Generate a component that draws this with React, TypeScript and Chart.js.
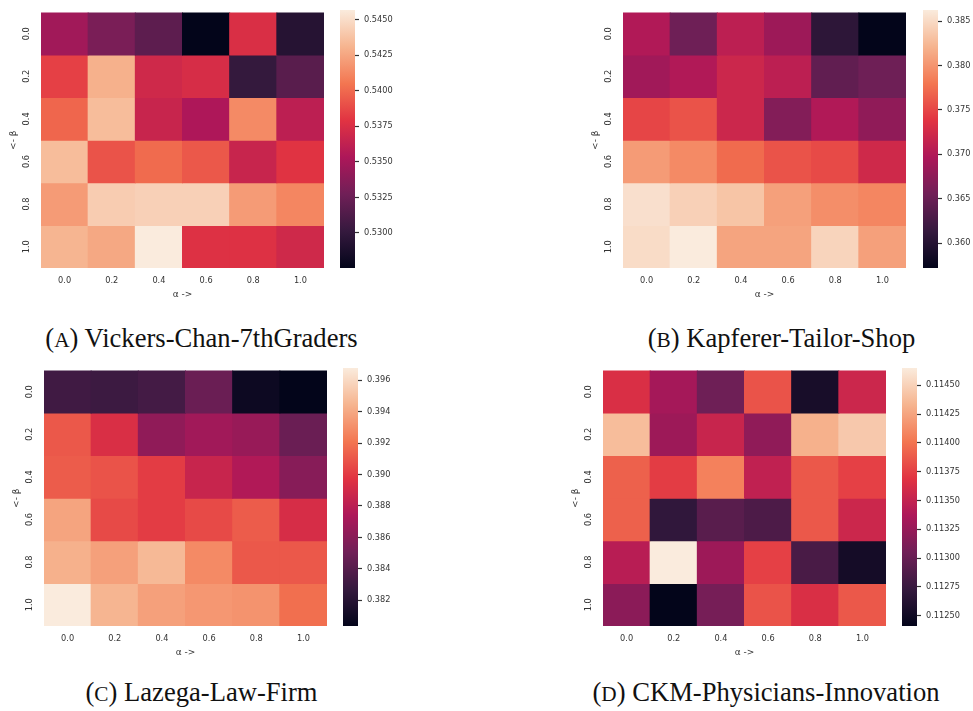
import React, { useEffect, useRef } from 'react';
import { Chart, registerables } from 'chart.js';
Chart.register(...registerables);

const alphaLabels = ['0.0', '0.2', '0.4', '0.6', '0.8', '1.0'];
const betaLabels = ['0.0', '0.2', '0.4', '0.6', '0.8', '1.0'];

// rows = beta (top to bottom), columns = alpha
const vickersValues = [
  [0.53479, 0.53316, 0.53189, 0.52754, 0.53751, 0.52935],
  [0.53842, 0.54295, 0.53697, 0.53733, 0.53008, 0.53171],
  [0.53987, 0.54349, 0.53661, 0.53534, 0.54132, 0.53606],
  [0.54349, 0.53914, 0.54005, 0.53932, 0.53661, 0.53787],
  [0.54204, 0.54422, 0.5444, 0.5444, 0.54204, 0.54114],
  [0.54313, 0.54259, 0.54567, 0.53769, 0.53769, 0.53697],
];
const kapfererValues = [
  [0.36999, 0.36534, 0.37086, 0.36854, 0.36069, 0.35721],
  [0.36883, 0.36999, 0.37202, 0.37086, 0.36447, 0.36534],
  [0.37492, 0.3758, 0.37202, 0.36679, 0.36999, 0.36766],
  [0.38044, 0.37928, 0.37725, 0.3758, 0.37521, 0.37231],
  [0.38538, 0.38422, 0.38335, 0.38073, 0.37957, 0.37899],
  [0.38509, 0.38625, 0.38102, 0.38102, 0.38451, 0.38073],
];
const lazegaValues = [
  [0.38315, 0.38299, 0.38332, 0.3848, 0.38085, 0.38036],
  [0.39104, 0.3894, 0.38627, 0.38693, 0.3866, 0.3848],
  [0.3912, 0.39088, 0.39005, 0.38858, 0.38759, 0.38595],
  [0.39383, 0.39055, 0.39005, 0.39055, 0.3912, 0.38923],
  [0.39433, 0.39367, 0.39465, 0.39285, 0.39104, 0.39104],
  [0.39679, 0.39449, 0.39367, 0.39334, 0.39318, 0.39186],
];
const ckmValues = [
  [0.113642, 0.113328, 0.113037, 0.113844, 0.112544, 0.113552],
  [0.114381, 0.113284, 0.11353, 0.113216, 0.114314, 0.114448],
  [0.113911, 0.113732, 0.114068, 0.113485, 0.113866, 0.113754],
  [0.113911, 0.112701, 0.112925, 0.112858, 0.113866, 0.113552],
  [0.11344, 0.11465, 0.113284, 0.113754, 0.112836, 0.112522],
  [0.113194, 0.11241, 0.113082, 0.113844, 0.113642, 0.113866],
];

const vickersTicks = [0.53, 0.5325, 0.535, 0.5375, 0.54, 0.5425, 0.545];
const kapfererTicks = [0.36, 0.365, 0.37, 0.375, 0.38, 0.385];
const lazegaTicks = [0.382, 0.384, 0.386, 0.388, 0.39, 0.392, 0.394, 0.396];
const ckmTicks = [0.1125, 0.11275, 0.113, 0.11325, 0.1135, 0.11375, 0.114, 0.11425, 0.1145];

const ROCKET_STOPS: [number, string][] = [
  [0, '#03051a'],
  [1 / 7, '#35193e'],
  [2 / 7, '#701f57'],
  [3 / 7, '#ad1759'],
  [4 / 7, '#e13342'],
  [5 / 7, '#f37651'],
  [6 / 7, '#f6b48f'],
  [1, '#faebdd'],
];

function hexToRgb(h: string) {
  return [parseInt(h.slice(1, 3), 16), parseInt(h.slice(3, 5), 16), parseInt(h.slice(5, 7), 16)];
}

function rocket(t: number) {
  const x = Math.max(0, Math.min(1, t));
  for (let i = 0; i < ROCKET_STOPS.length - 1; i++) {
    const [p0, c0] = ROCKET_STOPS[i];
    const [p1, c1] = ROCKET_STOPS[i + 1];
    if (x <= p1) {
      const f = (x - p0) / (p1 - p0);
      const a = hexToRgb(c0);
      const b = hexToRgb(c1);
      const r = a.map((v, k) => Math.round(v + (b[k] - v) * f));
      return `rgb(${r[0]},${r[1]},${r[2]})`;
    }
  }
  return ROCKET_STOPS[ROCKET_STOPS.length - 1][1];
}

const SANS = 'DejaVu Sans';
const TXT = '#333333';
const HEAT_W = 283;
const HEAT_H = 263;

function Heatmap({ values, left, top }: { values: number[][]; left: number; top: number }) {
  const ref = useRef<HTMLCanvasElement>(null);
  const W = 41 + HEAT_W + 6;
  const H = 5 + HEAT_H + 37;
  useEffect(() => {
    const flat = values.flat();
    const vmin = Math.min(...flat);
    const vmax = Math.max(...flat);
    const chart = new Chart(ref.current!, {
      type: 'bar',
      data: {
        labels: alphaLabels,
        datasets: values.map((row, r) => ({
          data: row.map(() => [r, r + 1]),
          backgroundColor: row.map((v) => rocket((v - vmin) / (vmax - vmin))),
          borderWidth: 0,
          barPercentage: 1,
          categoryPercentage: 1,
          grouped: false,
          inflateAmount: 0.5,
        })) as any,
      },
      options: {
        responsive: false,
        animation: false,
        events: [],
        layout: { padding: { left: 0, top: 5, right: 6, bottom: 0 } },
        plugins: { legend: { display: false }, tooltip: { enabled: false } },
        scales: {
          x: {
            grid: { display: false, drawTicks: false },
            border: { display: false },
            ticks: { font: { family: SANS, size: 8.2 }, color: TXT, padding: 8, maxRotation: 0, minRotation: 0 },
            title: { display: true, text: 'α ->', font: { family: SANS, size: 9 }, color: TXT, padding: { top: 0, bottom: 4.6 } },
            afterFit: (s: any) => {
              s.height = 37;
            },
          },
          y: {
            type: 'linear',
            min: 0,
            max: 6,
            reverse: true,
            grid: { display: false, drawTicks: false },
            border: { display: false },
            afterBuildTicks: (s: any) => {
              s.ticks = betaLabels.map((_, i) => ({ value: i + 0.5 }));
            },
            ticks: {
              callback: (v: any) => betaLabels[Math.floor(Number(v))],
              minRotation: 90,
              maxRotation: 90,
              crossAlign: 'center',
              padding: 7.5,
              font: { family: SANS, size: 8.2 },
              color: TXT,
            },
            title: { display: true, text: '<- β', font: { family: SANS, size: 9 }, color: TXT, padding: { top: 8.6, bottom: 0 } },
            afterFit: (s: any) => {
              s.width = 41;
            },
          },
        },
      } as any,
    });
    return () => chart.destroy();
  }, []);
  return (
    <canvas
      ref={ref}
      width={W}
      height={H}
      style={{ position: 'absolute', left: left - 41, top: top - 5, width: W, height: H }}
    />
  );
}

function Colorbar({
  values,
  ticks,
  decimals,
  left,
  top,
}: {
  values: number[][];
  ticks: number[];
  decimals: number;
  left: number;
  top: number;
}) {
  const ref = useRef<HTMLCanvasElement>(null);
  const W = 80;
  const H = 5 + HEAT_H + 12;
  useEffect(() => {
    const flat = values.flat();
    const vmin = Math.min(...flat);
    const vmax = Math.max(...flat);
    const chart = new Chart(ref.current!, {
      type: 'bar',
      data: {
        labels: [''],
        datasets: [
          {
            data: [[vmin, vmax]],
            backgroundColor: (c: any) => {
              const ch = c.chart;
              const area = ch.chartArea;
              if (!area) return '#000';
              const g = ch.ctx.createLinearGradient(0, area.bottom, 0, area.top);
              ROCKET_STOPS.forEach(([p, col]) => g.addColorStop(p, col));
              return g;
            },
            borderWidth: 0,
            barPercentage: 1,
            categoryPercentage: 1,
            inflateAmount: 0,
          },
        ] as any,
      },
      options: {
        responsive: false,
        animation: false,
        events: [],
        layout: { padding: { left: 10, top: 5, right: 0, bottom: 12 } },
        plugins: { legend: { display: false }, tooltip: { enabled: false } },
        scales: {
          x: { display: false },
          y: {
            position: 'right',
            min: vmin,
            max: vmax,
            afterBuildTicks: (s: any) => {
              s.ticks = ticks.map((v) => ({ value: v }));
            },
            grid: { drawOnChartArea: false, drawTicks: true, tickLength: 4, tickColor: TXT, tickWidth: 1.2 },
            border: { display: false },
            ticks: {
              padding: 5,
              font: { family: SANS, size: 8.2 },
              color: TXT,
              callback: (v: any) => Number(v).toFixed(decimals),
            },
            afterFit: (s: any) => {
              s.width = W - 25;
            },
          },
        },
      } as any,
    });
    return () => chart.destroy();
  }, []);
  return (
    <canvas
      ref={ref}
      width={W}
      height={H}
      style={{ position: 'absolute', left: left - 10, top: top - 5, width: W, height: H }}
    />
  );
}

function Caption({ letter, text, cx, baseline }: { letter: string; text: string; cx: number; baseline: number }) {
  const fs = 26.6;
  return (
    <div
      style={{
        position: 'absolute',
        left: cx,
        top: baseline - fs * 0.8375,
        transform: 'translateX(-50%)',
        whiteSpace: 'nowrap',
        fontFamily: '"Liberation Serif", "Times New Roman", serif',
        fontSize: fs,
        lineHeight: 1,
        color: '#111',
      }}
    >
      (<span style={{ fontSize: '0.8em' }}>{letter}</span>) {text}
    </div>
  );
}

export default function App() {
  return (
    <div
      style={{
        position: 'fixed',
        left: 0,
        top: 0,
        width: 973,
        height: 711,
        background: '#fff',
        overflow: 'hidden',
      }}
    >
      <Heatmap values={vickersValues} left={41} top={5} />
      <Colorbar values={vickersValues} ticks={vickersTicks} decimals={4} left={340} top={5} />
      <Heatmap values={kapfererValues} left={623} top={5} />
      <Colorbar values={kapfererValues} ticks={kapfererTicks} decimals={3} left={923} top={5} />
      <Heatmap values={lazegaValues} left={44} top={363} />
      <Colorbar values={lazegaValues} ticks={lazegaTicks} decimals={3} left={343} top={363} />
      <Heatmap values={ckmValues} left={603} top={363} />
      <Colorbar values={ckmValues} ticks={ckmTicks} decimals={5} left={902} top={363} />
      <Caption letter="A" text="Vickers-Chan-7thGraders" cx={201.5} baseline={347} />
      <Caption letter="B" text="Kapferer-Tailor-Shop" cx={781.5} baseline={347} />
      <Caption letter="C" text="Lazega-Law-Firm" cx={201.5} baseline={701} />
      <Caption letter="D" text="CKM-Physicians-Innovation" cx={766} baseline={701} />
    </div>
  );
}
